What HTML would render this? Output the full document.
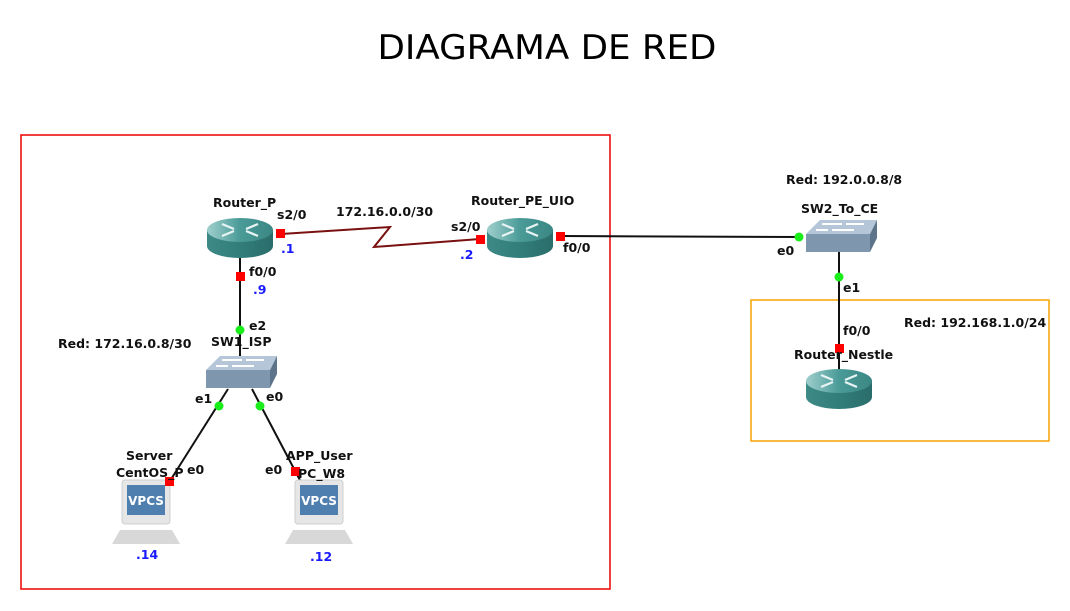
<!DOCTYPE html>
<html><head><meta charset="utf-8"><style>
html,body{margin:0;padding:0;background:#fff;}
svg{display:block}
text{font-family:"DejaVu Sans","Liberation Sans",sans-serif;font-weight:bold;font-size:12.5px;fill:#111}
.b{fill:#1a1aff}
</style></head><body>
<svg width="1070" height="611" viewBox="0 0 1070 611" xmlns="http://www.w3.org/2000/svg">
<defs>
<linearGradient id="rt" x1="0" y1="0" x2="1" y2="0"><stop offset="0" stop-color="#9fcfcd"/><stop offset="0.5" stop-color="#4a9b98"/><stop offset="1" stop-color="#3b8784"/></linearGradient>
<linearGradient id="rb" x1="0" y1="0" x2="1" y2="0"><stop offset="0" stop-color="#3d8a87"/><stop offset="0.5" stop-color="#327d7a"/><stop offset="1" stop-color="#2a6e6b"/></linearGradient>
<g id="router">
<path d="M-33,-8 L-33,8 A33,12 0 0 0 33,8 L33,-8 Z" fill="url(#rb)"/>
<ellipse cx="0" cy="-8" rx="33" ry="12" fill="url(#rt)"/>
<g stroke="#e8f4f4" stroke-width="2.2" fill="none">
<path d="M-18,-14 L-6,-9 M-18,-2 L-6,-7 M18,-14 L6,-9 M18,-2 L6,-7"/>
</g>
</g>
<g id="switch">
<polygon points="-34,0 -20,-14 37,-14 30,0" fill="#b4c6d8"/>
<polygon points="-34,0 30,0 30,18 -34,18" fill="#7f97ae"/>
<polygon points="30,0 37,-14 37,4 30,18" fill="#5e748a"/>
<g stroke="#fff" stroke-width="2" fill="none"><path d="M-18,-10 L2,-10 M-8,-4 L14,-4 M6,-10 L24,-10 M-24,-4 L-12,-4"/></g>
</g>
<g id="pc">
<polygon points="-26,0 26,0 34,14 -34,14" fill="#d8d8d8"/>
<rect x="-24" y="-50" width="48" height="44" rx="3" fill="#e6e6e6" stroke="#cfcfcf"/>
<rect x="-19" y="-45" width="38" height="30" fill="#4f7fae"/>
<text x="0" y="-25" text-anchor="middle" style="fill:#fff;font-size:12px">VPCS</text>
</g>
</defs>

<text x="547" y="59" text-anchor="middle" textLength="339" lengthAdjust="spacingAndGlyphs" style="font-weight:normal;font-size:34px;font-family:'DejaVu Sans Condensed','Liberation Sans',sans-serif;fill:#000">DIAGRAMA DE RED</text>

<rect x="21" y="135" width="589" height="454" fill="none" stroke="#e00" stroke-width="1.5"/>
<rect x="751" y="300" width="298" height="141" fill="none" stroke="#f5a300" stroke-width="1.5"/>

<polyline points="281,234 390,227 374,247 480,239" fill="none" stroke="#7a1010" stroke-width="2"/>
<line x1="560" y1="236" x2="800" y2="237" stroke="#111" stroke-width="2"/>
<line x1="240" y1="250" x2="240" y2="370" stroke="#111" stroke-width="2"/>
<line x1="839" y1="250" x2="839" y2="385" stroke="#111" stroke-width="2"/>
<line x1="228" y1="389" x2="168" y2="484" stroke="#111" stroke-width="2"/>
<line x1="252" y1="389" x2="302" y2="484" stroke="#111" stroke-width="2"/>

<use href="#router" x="240" y="238"/>
<use href="#router" x="520" y="238"/>
<use href="#router" x="839" y="389"/>
<use href="#switch" x="240" y="370"/>
<use href="#switch" x="840" y="234"/>
<use href="#pc" x="146" y="530"/>
<use href="#pc" x="319" y="530"/>

<g fill="#f00">
<rect x="276" y="229" width="9" height="9"/>
<rect x="236" y="272" width="9" height="9"/>
<rect x="476" y="235" width="9" height="9"/>
<rect x="556" y="232" width="9" height="9"/>
<rect x="835" y="344" width="9" height="9"/>
<rect x="165" y="477" width="9" height="9"/>
<rect x="291" y="467" width="9" height="9"/>
</g>
<g fill="#1aee1a">
<circle cx="240" cy="330" r="4.5"/>
<circle cx="219" cy="406" r="4.5"/>
<circle cx="260" cy="406" r="4.5"/>
<circle cx="799" cy="237" r="4.5"/>
<circle cx="839" cy="277" r="4.5"/>
</g>

<text x="213" y="207">Router_P</text>
<text x="277" y="219">s2/0</text>
<text x="336" y="216">172.16.0.0/30</text>
<text x="471" y="205">Router_PE_UIO</text>
<text x="451" y="231">s2/0</text>
<text x="563" y="252">f0/0</text>
<text class="b" x="281" y="253">.1</text>
<text class="b" x="460" y="259">.2</text>
<text x="249" y="276">f0/0</text>
<text class="b" x="253" y="294">.9</text>
<text x="249" y="330">e2</text>
<text x="58" y="348">Red: 172.16.0.8/30</text>
<text x="211" y="346">SW1_ISP</text>
<text x="195" y="403">e1</text>
<text x="266" y="401">e0</text>
<text x="126" y="460">Server</text>
<text x="116" y="477">CentOS_P</text>
<text x="187" y="474">e0</text>
<text x="286" y="460">APP_User</text>
<text x="265" y="474">e0</text>
<text x="298" y="478">PC_W8</text>
<text class="b" x="136" y="559">.14</text>
<text class="b" x="310" y="561">.12</text>
<text x="786" y="184">Red: 192.0.0.8/8</text>
<text x="801" y="213">SW2_To_CE</text>
<text x="777" y="255">e0</text>
<text x="843" y="292">e1</text>
<text x="843" y="335">f0/0</text>
<text x="904" y="327">Red: 192.168.1.0/24</text>
<text x="794" y="359">Router_Nestle</text>
</svg>
</body></html>
